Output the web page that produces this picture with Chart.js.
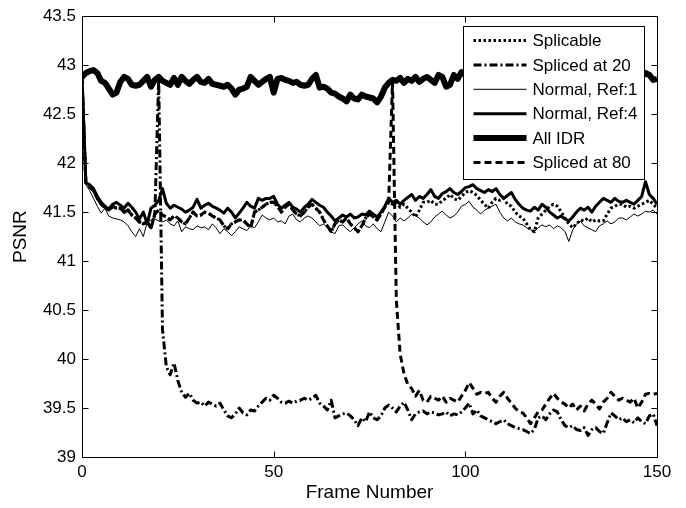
<!DOCTYPE html>
<html>
<head>
<meta charset="utf-8">
<script src="https://cdn.jsdelivr.net/npm/chart.js@4"></script>
<style>
  body { margin: 0; background: #fff; }
  canvas { display: block; }
</style>
</head>
<body>
<canvas id="chart" width="686" height="508"></canvas>
<script>
// frame index 0..150 (x categories)
const frames = Array.from({ length: 151 }, (_, i) => i);
const xTicks = [0, 50, 100, 150];
const yTicks = [39, 39.5, 40, 40.5, 41, 41.5, 42, 42.5, 43, 43.5];

const allIdr = [
  42.88,42.92,42.94,42.95,42.92,42.84,42.82,42.76,42.70,42.72,
  42.83,42.88,42.86,42.80,42.79,42.80,42.84,42.88,42.78,42.85,
  42.88,42.84,42.82,42.80,42.87,42.80,42.88,42.84,42.81,42.85,
  42.88,42.83,42.82,42.86,42.81,42.80,42.79,42.78,42.80,42.76,
  42.70,42.75,42.76,42.78,42.88,42.84,42.80,42.83,42.86,42.88,
  42.72,42.86,42.87,42.85,42.84,42.82,42.83,42.80,42.79,42.80,
  42.86,42.90,42.77,42.78,42.76,42.72,42.71,42.68,42.66,42.63,
  42.70,42.66,42.65,42.70,42.68,42.67,42.66,42.62,42.68,42.77,
  42.82,42.85,42.84,42.87,42.82,42.86,42.84,42.88,42.83,42.86,
  42.88,42.85,42.82,42.90,42.88,42.78,42.80,42.90,42.86,42.93,
  42.90,42.88,42.92,42.86,42.90,42.94,42.88,42.86,42.92,42.90,
  42.87,42.91,42.88,42.84,42.89,42.92,42.90,42.86,42.88,42.93,
  42.90,42.87,42.85,42.90,42.92,42.88,42.86,42.90,42.94,42.90,
  42.87,42.85,42.89,42.92,42.88,42.86,42.90,42.93,42.89,42.87,
  42.90,42.92,42.88,42.85,42.89,42.91,42.88,42.92,42.90,42.85,
  42.86
];

const normalRef4 = [
  42.88,41.80,41.78,41.74,41.66,41.60,41.56,41.53,41.58,41.60,
  41.57,41.54,41.59,41.55,41.50,41.43,41.50,41.38,41.54,41.57,
  41.62,41.74,41.59,41.54,41.57,41.55,41.53,41.50,41.52,41.55,
  41.63,41.54,41.57,41.59,41.56,41.54,41.52,41.49,41.54,41.50,
  41.44,41.49,41.54,41.60,41.56,41.54,41.64,41.62,41.64,41.64,
  41.66,41.58,41.54,41.57,41.60,41.55,41.53,41.50,41.55,41.58,
  41.63,41.60,41.57,41.55,41.50,41.46,41.41,41.44,41.47,41.45,
  41.48,41.44,41.45,41.48,41.47,41.51,41.48,41.45,41.50,41.56,
  41.64,41.60,41.62,41.58,41.62,41.65,41.68,41.62,41.66,41.64,
  41.68,41.73,41.66,41.64,41.69,41.71,41.74,41.70,41.68,41.71,
  41.75,41.76,41.78,41.74,41.72,41.70,41.73,41.71,41.74,41.68,
  41.64,41.67,41.70,41.63,41.58,41.54,41.52,41.51,41.55,41.52,
  41.58,41.55,41.50,41.47,41.44,41.46,41.43,41.41,41.45,41.50,
  41.54,41.52,41.55,41.50,41.56,41.60,41.64,41.62,41.60,41.64,
  41.61,41.60,41.62,41.60,41.58,41.62,41.66,41.81,41.68,41.64,
  41.58
];

const splicable = [
  42.88,41.80,41.76,41.72,41.64,41.58,41.55,41.52,41.56,41.54,
  41.54,41.50,41.52,41.47,41.44,41.40,41.38,41.40,41.34,41.48,
  41.52,41.47,41.45,41.42,41.46,41.44,41.40,41.38,41.44,41.50,
  41.46,41.47,41.50,41.49,41.46,41.44,41.42,41.36,41.33,41.38,
  41.40,41.42,41.42,41.38,41.34,41.50,41.52,41.55,41.58,41.60,
  41.60,41.56,41.50,41.55,41.58,41.52,41.48,41.46,41.50,41.55,
  41.58,41.54,41.50,41.42,41.36,41.30,41.38,41.42,41.40,41.44,
  41.38,41.34,41.30,41.36,41.44,41.48,41.45,41.42,41.48,41.55,
  41.60,41.58,41.60,41.55,41.58,41.54,41.50,41.45,41.52,41.60,
  41.60,41.62,41.58,41.58,41.62,41.64,41.68,41.64,41.62,41.66,
  41.70,41.72,41.70,41.67,41.62,41.58,41.54,41.60,41.64,41.62,
  41.64,41.58,41.56,41.50,41.46,41.44,41.38,41.32,41.30,41.44,
  41.48,41.52,41.56,41.58,41.56,41.50,41.44,41.38,41.34,41.38,
  41.42,41.41,41.44,41.40,41.42,41.41,41.41,41.48,41.54,41.56,
  41.58,41.58,41.55,41.56,41.54,41.56,41.58,41.60,41.62,41.58,
  41.54
];

const normalRef1 = [
  42.88,41.78,41.72,41.64,41.56,41.49,41.54,41.46,41.44,41.43,
  41.42,41.40,41.36,41.30,41.25,41.33,41.25,41.40,41.42,41.43,
  41.41,41.40,41.42,41.38,41.36,41.41,41.30,41.35,41.33,41.32,
  41.36,41.34,41.35,41.32,41.38,41.34,41.28,41.33,41.30,41.26,
  41.30,41.35,41.33,41.31,41.36,41.34,41.40,41.47,41.44,41.42,
  41.44,41.40,41.41,41.38,41.46,41.48,41.42,41.40,41.44,41.46,
  41.44,41.40,41.36,41.38,41.34,41.30,41.28,41.36,41.37,41.33,
  41.30,41.34,41.38,41.41,41.36,41.34,41.38,41.33,41.30,41.40,
  41.50,41.46,41.40,41.44,41.41,41.44,41.48,41.46,41.44,41.40,
  41.37,41.40,41.45,41.48,41.51,41.47,41.44,41.46,41.50,41.56,
  41.58,41.61,41.55,41.52,41.48,41.52,41.54,41.56,41.58,41.50,
  41.44,41.41,41.44,41.40,41.38,41.37,41.34,41.32,41.30,41.34,
  41.37,41.35,41.37,41.33,41.36,41.34,41.30,41.20,41.32,41.38,
  41.41,41.36,41.34,41.32,41.30,41.36,41.38,41.41,41.38,41.40,
  41.44,41.44,41.42,41.45,41.48,41.46,41.48,41.51,41.50,41.52,
  41.48
];

// spliced streams follow the splicable stream until the splice point
const splicedAt20Tail = [ // frames 20..150
  42.85,40.30,39.92,39.84,39.96,39.78,39.66,39.61,39.65,39.58,
  39.55,39.56,39.52,39.56,39.54,39.52,39.55,39.48,39.42,39.40,
  39.44,39.50,39.45,39.43,39.48,39.47,39.52,39.56,39.60,39.58,
  39.63,39.60,39.56,39.55,39.57,39.55,39.57,39.58,39.60,39.58,
  39.60,39.63,39.55,39.52,39.48,39.58,39.40,39.42,39.44,39.45,
  39.42,39.38,39.32,39.40,39.36,39.46,39.40,39.38,39.42,39.50,
  39.53,39.50,39.46,39.52,39.56,39.48,39.38,39.44,39.46,39.47,
  39.44,39.46,39.45,39.43,39.44,39.46,39.42,39.44,39.43,39.46,
  39.50,39.55,39.44,39.48,39.42,39.40,39.38,39.36,39.34,39.36,
  39.38,39.34,39.32,39.30,39.29,39.28,39.26,39.24,39.28,39.40,
  39.42,39.38,39.44,39.48,39.46,39.38,39.32,39.30,39.32,39.28,
  39.27,39.30,39.22,39.28,39.30,39.26,39.24,39.35,39.45,39.42,
  39.38,39.40,39.36,39.38,39.35,39.40,39.36,39.34,39.42,39.44,
  39.32
];

const splicedAt80Tail = [ // frames 81..150
  42.83,40.60,40.05,39.85,39.74,39.70,39.62,39.68,39.58,
  39.56,39.62,39.60,39.58,39.62,39.56,39.60,39.58,39.56,39.62,
  39.68,39.76,39.70,39.64,39.66,39.65,39.66,39.60,39.56,39.62,
  39.66,39.60,39.55,39.50,39.46,39.45,39.40,39.34,39.40,39.46,
  39.48,39.54,39.60,39.65,39.60,39.56,39.54,39.50,39.54,39.48,
  39.52,39.47,39.54,39.58,39.54,39.49,39.56,39.60,39.66,39.62,
  39.58,39.60,39.58,39.56,39.60,39.50,39.56,39.64,39.65,39.64,
  39.65
];

const splicedAt20 = splicable.slice(0, 20).concat(splicedAt20Tail);
const splicedAt80 = splicable.slice(0, 81).concat(splicedAt80Tail);

function pts(values) {
  return values.map((v, i) => ({ x: frames[i], y: v }));
}

const FONT = '"Liberation Sans", Arial, sans-serif';
Chart.defaults.font.family = FONT;
Chart.defaults.color = '#000';

function series(label, values, width, dash) {
  return {
    label: label,
    data: pts(values),
    borderColor: '#000',
    backgroundColor: '#000',
    borderWidth: width,
    borderDash: dash,
    borderJoinStyle: 'round',
    pointRadius: 0,
    tension: 0,
    fill: false
  };
}

// box around the plot, inward ticks and the legend inside the plot
const matlabFrame = {
  id: 'matlabFrame',
  afterDraw(chart) {
    const { ctx, chartArea: a, scales: { x, y } } = chart;
    const L = Math.round(a.left) + 0.5, R = Math.round(a.right) + 0.5;
    const T = Math.round(a.top) + 0.5, B = Math.round(a.bottom) + 0.5;
    ctx.save();
    ctx.strokeStyle = '#000';
    ctx.lineWidth = 1;
    ctx.setLineDash([]);
    ctx.beginPath();
    ctx.rect(L, T, R - L, B - T);
    x.ticks.forEach(t => {
      const px = Math.round(x.getPixelForValue(t.value)) + 0.5;
      ctx.moveTo(px, B); ctx.lineTo(px, B - 6);
      ctx.moveTo(px, T); ctx.lineTo(px, T + 6);
    });
    y.ticks.forEach(t => {
      const py = Math.round(y.getPixelForValue(t.value)) + 0.5;
      ctx.moveTo(L, py); ctx.lineTo(L + 6, py);
      ctx.moveTo(R, py); ctx.lineTo(R - 6, py);
    });
    ctx.stroke();

    // legend
    const bw = 181, bh = 153;
    const bx = Math.round(a.right - 13 - bw) + 0.5;
    const by = Math.round(a.top + 10) + 0.5;
    ctx.fillStyle = '#fff';
    ctx.fillRect(bx, by, bw, bh);
    ctx.strokeRect(bx, by, bw, bh);
    ctx.font = '17px ' + FONT;
    ctx.textBaseline = 'middle';
    ctx.textAlign = 'left';
    chart.data.datasets.forEach((ds, i) => {
      const cy = by + 14 + i * 24.4;
      ctx.beginPath();
      ctx.lineWidth = ds.borderWidth;
      ctx.setLineDash(ds.borderDash || []);
      ctx.moveTo(bx + 10, cy);
      ctx.lineTo(bx + 63, cy);
      ctx.stroke();
      ctx.fillStyle = '#000';
      ctx.fillText(ds.label, bx + 69, cy + 1);
    });
    ctx.restore();
  }
};

new Chart(document.getElementById('chart'), {
  type: 'line',
  data: {
    datasets: [
      series('Splicable', splicable, 3, [2.5, 2.5]),
      series('Spliced at 20', splicedAt20, 3, [8, 3, 2, 3]),
      series('Normal, Ref:1', normalRef1, 1, []),
      series('Normal, Ref:4', normalRef4, 3, []),
      series('All IDR', allIdr, 6, []),
      series('Spliced at 80', splicedAt80, 3, [7, 4])
    ]
  },
  options: {
    responsive: false,
    animation: false,
    events: [],
    layout: { padding: { left: 0, top: 14, right: 29, bottom: 0 } },
    plugins: {
      legend: { display: false },
      tooltip: { enabled: false }
    },
    scales: {
      x: {
        type: 'linear',
        min: 0,
        max: 150,
        afterBuildTicks: s => { s.ticks = xTicks.map(v => ({ value: v })); },
        afterFit: s => { s.height = 51; },
        grid: { display: false, drawTicks: false },
        border: { display: false },
        ticks: { font: { size: 17 }, padding: 5, maxRotation: 0, callback: v => String(v) },
        title: { display: true, text: 'Frame Number', font: { size: 19 }, padding: { top: 0, bottom: 4 } }
      },
      y: {
        min: 39,
        max: 43.5,
        afterBuildTicks: s => { s.ticks = yTicks.map(v => ({ value: v })); },
        afterFit: s => { s.width = 82; },
        grid: { display: false, drawTicks: false },
        border: { display: false },
        ticks: { font: { size: 17 }, padding: 6, callback: v => String(v) },
        title: { display: true, text: 'PSNR', font: { size: 19 }, padding: { top: 9, bottom: 0 } }
      }
    }
  },
  plugins: [matlabFrame]
});
</script>
</body>
</html>
